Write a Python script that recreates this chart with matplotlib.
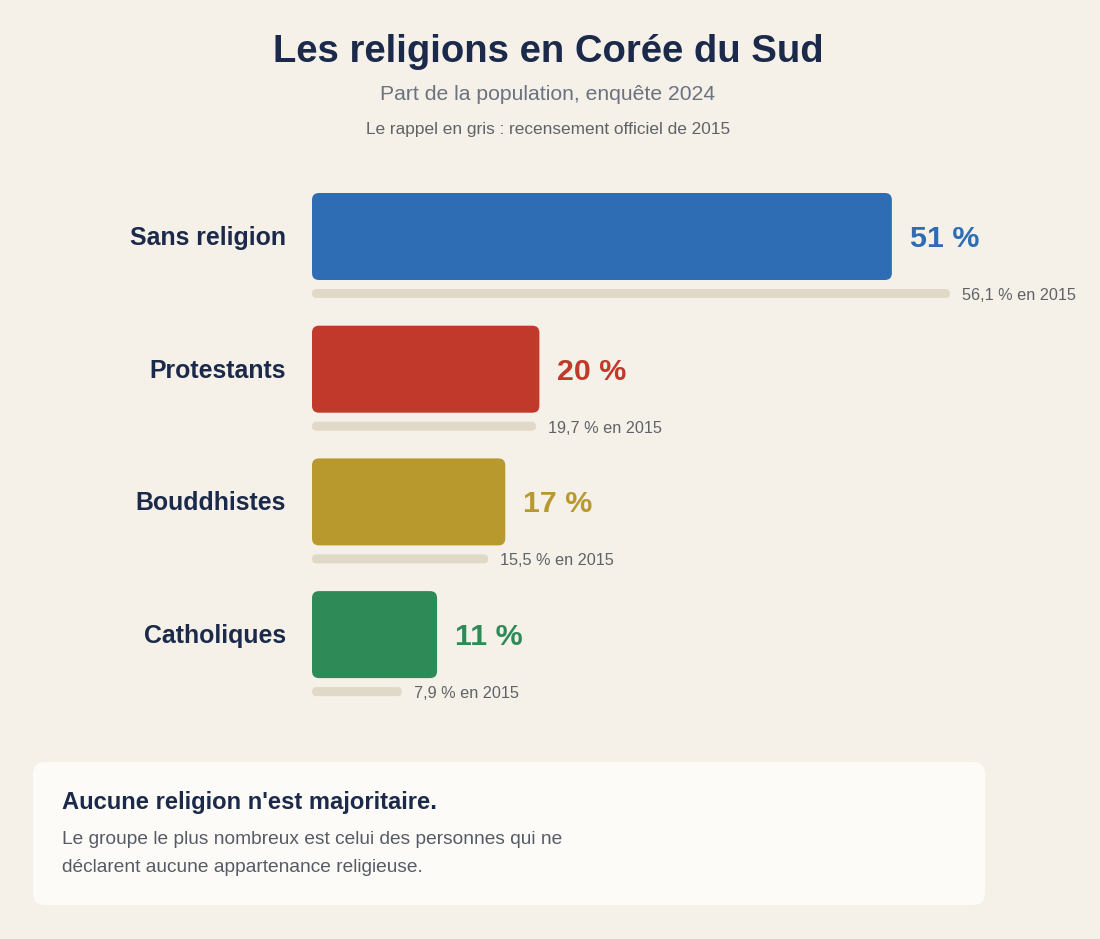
import matplotlib
matplotlib.use("Agg")
import matplotlib.pyplot as plt
from matplotlib.patches import FancyBboxPatch

# ---- data ----
categories = ["Sans religion", "Protestants", "Bouddhistes", "Catholiques"]
values_2024 = [51, 20, 17, 11]
values_2015 = [56.1, 19.7, 15.5, 7.9]
labels_2024 = ["51 %", "20 %", "17 %", "11 %"]
labels_2015 = ["56,1 % en 2015", "19,7 % en 2015", "15,5 % en 2015", "7,9 % en 2015"]
colors = ["#2e6db4", "#c0392b", "#b8992e", "#2e8b57"]

title = "Les religions en Corée du Sud"
subtitle = "Part de la population, enquête 2024"
note = "Le rappel en gris : recensement officiel de 2015"
box_title = "Aucune religion n'est majoritaire."
box_body = ["Le groupe le plus nombreux est celui des personnes qui ne",
            "déclarent aucune appartenance religieuse."]

BG = "#f5f0e8"
NAVY = "#1b2a4a"
GRAY_BAR = "#e1d9c8"
GRAY_TXT = "#5f6368"

plt.rcParams['font.family'] = ['Liberation Sans', 'DejaVu Sans']

W, H = 1100, 939
fig = plt.figure(figsize=(W / 100, H / 100), dpi=100, facecolor=BG)

# ---- bar axes (pixel geometry) ----
px_per_pct = 11.37
row_px = 132.7
first_center = 236.5
ax_left_px, ax_right_px = 312, 1100
ax_top_px, ax_bot_px = 170, 720
ax = fig.add_axes([ax_left_px / W, 1 - ax_bot_px / H,
                   (ax_right_px - ax_left_px) / W, (ax_bot_px - ax_top_px) / H])
ax.set_facecolor("none")
ax.set_xlim(0, (ax_right_px - ax_left_px) / px_per_pct)
ax.set_ylim((ax_bot_px - first_center) / row_px, (ax_top_px - first_center) / row_px)
ax.axis("off")

x_per_px = 1 / px_per_pct
y_per_px = 1 / row_px
aspect = y_per_px / x_per_px

bar_h = 87 * y_per_px
gray_off = 57 * y_per_px
gray_h = 9 * y_per_px

for i, (cat, v, v15, l, l15, c) in enumerate(zip(categories, values_2024, values_2015,
                                                labels_2024, labels_2015, colors)):
    # main bar
    ax.add_patch(FancyBboxPatch((0, i - bar_h / 2), v, bar_h,
                                boxstyle=f"round,pad=0,rounding_size={7 * x_per_px}",
                                mutation_aspect=aspect, facecolor=c, edgecolor="none"))
    # 2015 bar
    ax.add_patch(FancyBboxPatch((0, i + gray_off - gray_h / 2), v15, gray_h,
                                boxstyle=f"round,pad=0,rounding_size={4.5 * x_per_px}",
                                mutation_aspect=aspect, facecolor=GRAY_BAR, edgecolor="none"))
    # category label
    ax.text(-26 * x_per_px, i + 1.5 * y_per_px, cat, ha="right", va="center", fontsize=17.9,
            fontweight="bold", color=NAVY)
    # value label
    ax.text(v + 18 * x_per_px, i + 2.5 * y_per_px, l, ha="left", va="center", fontsize=21.9,
            fontweight="bold", color=c)
    # 2015 label
    ax.text(v15 + 12 * x_per_px, i + gray_off + 2 * y_per_px, l15, ha="left", va="center",
            fontsize=11.7, color=GRAY_TXT)

# ---- titles ----
fig.text(548 / W, 1 - 51.5 / H, title, ha="center", va="center", fontsize=27.5,
         fontweight="bold", color=NAVY)
fig.text(548 / W, 1 - 95 / H, subtitle, ha="center", va="center", fontsize=15.2,
         color="#6b7280")
fig.text(548 / W, 1 - 129.5 / H, note, ha="center", va="center", fontsize=12.4,
         color=GRAY_TXT)

# ---- note box ----
bax = fig.add_axes([0, 0, 1, 1])
bax.set_xlim(0, W)
bax.set_ylim(H, 0)
bax.axis("off")
bax.set_facecolor("none")
bax.add_patch(FancyBboxPatch((33, 762), 952, 143,
                             boxstyle="round,pad=0,rounding_size=12",
                             facecolor="#fdfbf7", edgecolor="none"))
bax.text(62, 803, box_title, ha="left", va="center", fontsize=17.1,
         fontweight="bold", color=NAVY)
for j, line in enumerate(box_body):
    bax.text(62, 840 + 28 * j, line, ha="left", va="center", fontsize=13.8,
             color="#555b66")

fig.savefig("out.png", dpi=100, facecolor=BG)
